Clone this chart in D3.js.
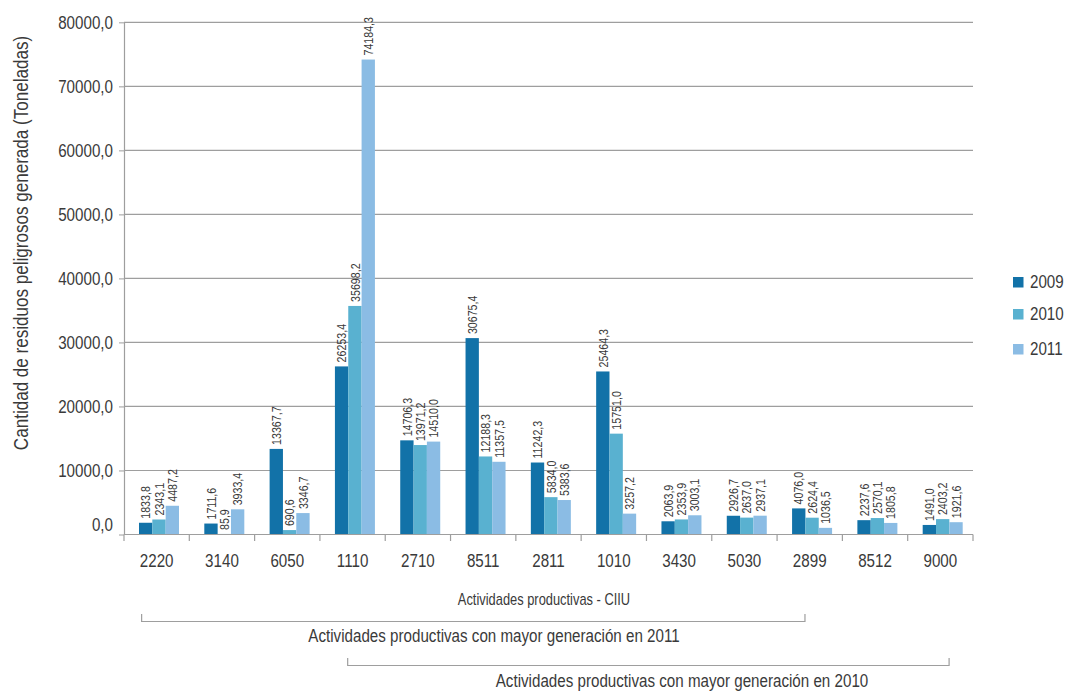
<!DOCTYPE html>
<html>
<head>
<meta charset="utf-8">
<script src="https://cdn.jsdelivr.net/npm/d3@7"></script>
<style>
  html, body { margin: 0; padding: 0; background: #fff; }
  svg text { font-family: "Liberation Sans", Arial, sans-serif; fill: #3a3a3a; }
</style>
</head>
<body>
<svg id="chart" width="1069" height="692"></svg>
<script>
// CIIU activity codes and hazardous waste generated (tonnes) per year
const categories = ["2220", "3140", "6050", "1110", "2710", "8511", "2811", "1010", "3430", "5030", "2899", "8512", "9000"];
const years = ["2009", "2010", "2011"];
const values2009 = [1833.8, 1711.6, 13367.7, 26253.4, 14706.3, 30675.4, 11242.3, 25464.3, 2063.9, 2926.7, 4076.0, 2237.6, 1491.0];
const values2010 = [2343.1, 85.9, 690.6, 35698.2, 13971.2, 12188.3, 5834.0, 15751.0, 2353.9, 2637.0, 2624.4, 2570.1, 2403.2];
const values2011 = [4487.2, 3933.4, 3346.7, 74184.3, 14510.0, 11357.5, 5383.6, 3257.2, 3003.1, 2937.1, 1036.5, 1805.8, 1921.6];
const yTicks = [0, 10000, 20000, 30000, 40000, 50000, 60000, 70000, 80000];
const colors = ["#1272a8", "#59b1d0", "#8bbce4"];

// Brackets under the axis grouping activities
const bracketLabels = ["Actividades productivas con mayor generación en 2011", "Actividades productivas con mayor generación en 2010"];
const bracketFrom = ["2220", "1110"];
const bracketTo = ["2899", "9000"];

const seriesValues = [values2009, values2010, values2011];
const rows = categories.map((c, i) => ({
  cat: c,
  vals: years.map((yr, k) => ({ year: yr, k, v: seriesValues[k][i] }))
}));

const fmt = d3.formatLocale({ decimal: ",", thousands: ".", grouping: [3], currency: ["", ""] }).format(".1f");

const svg = d3.select("#chart");
const plotLeft = 124, plotRight = 973, plotTop = 22.3, plotBottom = 534.5;
const axisGrey = "#9e9e9e";

const x0 = d3.scaleBand().domain(categories).range([plotLeft, plotRight]);
const groupW = 40, groupOff = 15;
const x1 = d3.scaleBand().domain(years).range([0, groupW]);
const y = d3.scaleLinear().domain([0, 80000]).range([plotBottom, plotTop]);

// horizontal gridlines
svg.append("g").selectAll("line")
  .data(yTicks.filter(t => t > 0))
  .join("line")
  .attr("x1", plotLeft).attr("x2", plotRight)
  .attr("y1", d => y(d)).attr("y2", d => y(d))
  .attr("stroke", axisGrey).attr("stroke-width", 1.2);

// y axis
const yAxis = svg.append("g")
  .attr("transform", `translate(${plotLeft},0)`)
  .call(d3.axisLeft(y).tickValues(yTicks).tickFormat(fmt).tickSize(5).tickPadding(6).tickSizeOuter(0));
yAxis.attr("font-family", null).attr("font-size", null);
yAxis.select(".domain").attr("stroke", axisGrey).attr("stroke-width", 1.2);
yAxis.selectAll(".tick line").attr("stroke", axisGrey);
yAxis.selectAll(".tick text")
  .style("font-size", "18.5px").attr("fill", "#3a3a3a")
  .attr("y", d => d === 0 ? -10 : 0);

// bars
const groups = svg.append("g").selectAll("g")
  .data(rows)
  .join("g")
  .attr("transform", d => `translate(${x0(d.cat) + groupOff},0)`);

groups.selectAll("rect")
  .data(d => d.vals)
  .join("rect")
  .attr("x", d => x1(d.year))
  .attr("width", x1.bandwidth())
  .attr("y", d => y(d.v))
  .attr("height", d => plotBottom - y(d.v))
  .attr("fill", d => colors[d.k]);

// value labels above each bar
groups.selectAll("text.val")
  .data(d => d.vals)
  .join("text")
  .attr("class", "val")
  .attr("transform", d => `translate(${x1(d.year) + x1.bandwidth() / 2},${y(d.v) - 4}) rotate(-90)`)
  .attr("dy", "0.36em")
  .attr("text-anchor", "start")
  .style("font-size", "13px")
  .text(d => fmt(d.v));

// x axis baseline and category separators
const xAxis = svg.append("g");
xAxis.append("line")
  .attr("x1", plotLeft).attr("x2", plotRight)
  .attr("y1", plotBottom).attr("y2", plotBottom)
  .attr("stroke", axisGrey).attr("stroke-width", 1.2);
const bounds = categories.map(c => x0(c)).concat([plotRight]);
xAxis.selectAll("line.sep")
  .data(bounds)
  .join("line")
  .attr("class", "sep")
  .attr("x1", d => d).attr("x2", d => d)
  .attr("y1", plotBottom).attr("y2", plotBottom + 6.5)
  .attr("stroke", axisGrey).attr("stroke-width", 1.2);
xAxis.selectAll("text")
  .data(categories)
  .join("text")
  .attr("x", d => x0(d) + x0.bandwidth() / 2)
  .attr("y", 567.5)
  .attr("text-anchor", "middle")
  .style("font-size", "18.5px")
  .text(d => d);

// axis titles
svg.append("text")
  .attr("transform", `translate(28,243) rotate(-90)`)
  .attr("text-anchor", "middle")
  .style("font-size", "20.8px")
  .text("Cantidad de residuos peligrosos generada (Toneladas)");

svg.append("text")
  .attr("x", 544).attr("y", 605.5)
  .attr("text-anchor", "middle")
  .style("font-size", "15.7px")
  .text("Actividades productivas - CIIU");

// legend
const legend = svg.append("g").selectAll("g")
  .data(years)
  .join("g")
  .attr("transform", (d, i) => `translate(1013,${[277, 309, 344][i]})`);
legend.append("rect").attr("width", 10.5).attr("height", 10.5).attr("fill", (d, i) => colors[i]);
legend.append("text").attr("x", 17).attr("y", 11).style("font-size", "18.5px").text(d => d);

// brackets
const bw = x0.bandwidth();
const bracketFromFrac = [0.27, 0.425];
const bracketToFrac = [0.427, 0.634];
const bracketY = [621.5, 665.5];
const labelY = [642.5, 687.5];
bracketLabels.forEach((lab, i) => {
  const xa = x0(bracketFrom[i]) + bw * bracketFromFrac[i];
  const xb = x0(bracketTo[i]) + bw * bracketToFrac[i];
  svg.append("path")
    .attr("d", `M${xa},${bracketY[i] - 7.5}V${bracketY[i]}H${xb}V${bracketY[i] - 7.5}`)
    .attr("fill", "none").attr("stroke", axisGrey).attr("stroke-width", 1.2);
  svg.append("text")
    .attr("x", i === 0 ? 494 : 682).attr("y", labelY[i])
    .attr("text-anchor", "middle")
    .style("font-size", "18.5px")
    .text(lab);
});

// narrow face: squeeze every label along its own reading direction
svg.selectAll("text").each(function () {
  const s = d3.select(this);
  const t = s.attr("transform");
  if (t) {
    s.attr("transform", `${t} scale(0.82,1)`);
  } else {
    const x = +s.attr("x") || 0;
    s.attr("x", 0).attr("transform", `translate(${x},0) scale(0.82,1)`);
  }
});
</script>
</body>
</html>
